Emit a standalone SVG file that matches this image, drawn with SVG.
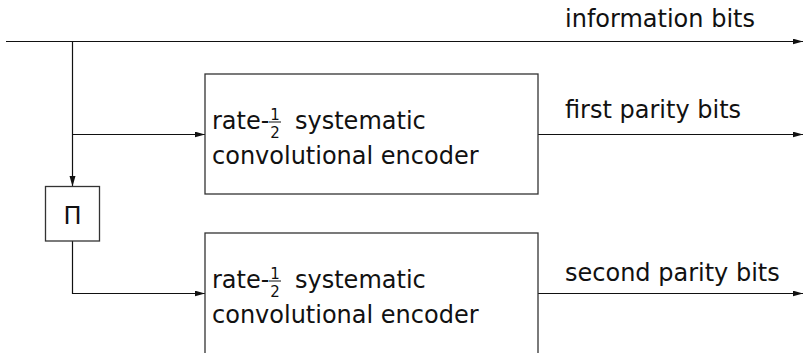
<svg xmlns="http://www.w3.org/2000/svg" width="804" height="353" viewBox="0 0 804 353">
<defs>
<style>
.t{font-family:"DejaVu Sans","Liberation Sans",sans-serif;font-size:24px;fill:#111}
.f{font-family:"DejaVu Sans","Liberation Sans",sans-serif;font-size:15px;fill:#111;text-anchor:middle}
.box{fill:#fff;stroke:#333;stroke-width:1.3}
.ln{fill:none;stroke:#111;stroke-width:1.2}
.bar{stroke:#111;stroke-width:1}
</style>
<marker id="ah" markerUnits="userSpaceOnUse" markerWidth="11" markerHeight="7" refX="10.5" refY="3" orient="auto">
<path d="M0,0 L10.5,3 L0,6 z" fill="#111"/>
</marker>
</defs>
<rect width="804" height="353" fill="#fff"/>
<g id="connectors">
<path class="ln" d="M6,41.5 H803" marker-end="url(#ah)"/>
<path class="ln" d="M72.5,41.5 V186.5" marker-end="url(#ah)"/>
<path class="ln" d="M72.5,134.5 H205" marker-end="url(#ah)"/>
<path class="ln" d="M72.5,241 V293.5 H205" marker-end="url(#ah)"/>
<path class="ln" d="M538,134.5 H803" marker-end="url(#ah)"/>
<path class="ln" d="M538,293.5 H803" marker-end="url(#ah)"/>
</g>
<g id="label-info"><text class="t" x="565" y="27">information bits</text></g>
<g id="label-first"><text class="t" x="565" y="118">first parity bits</text></g>
<g id="label-second"><text class="t" x="565" y="281">second parity bits</text></g>
<g id="encoder1">
<rect class="box" x="205" y="74" width="333" height="120"/>
<text class="t" x="212" y="129">rate-</text>
<text class="f" x="275" y="119.5">1</text>
<line class="bar" x1="269" y1="122" x2="281" y2="122"/>
<text class="f" x="275" y="138">2</text>
<text class="t" x="295" y="129">systematic</text>
<text class="t" x="212" y="164">convolutional encoder</text>
</g>
<g id="interleaver">
<rect class="box" x="45.5" y="186.5" width="54" height="54.5"/>
<text class="t" x="72.5" y="224" text-anchor="middle">Π</text>
</g>
<g id="encoder2">
<rect class="box" x="205" y="233" width="333" height="130"/>
<text class="t" x="212" y="288">rate-</text>
<text class="f" x="275" y="278.5">1</text>
<line class="bar" x1="269" y1="281" x2="281" y2="281"/>
<text class="f" x="275" y="297">2</text>
<text class="t" x="295" y="288">systematic</text>
<text class="t" x="212" y="323">convolutional encoder</text>
</g>
</svg>
